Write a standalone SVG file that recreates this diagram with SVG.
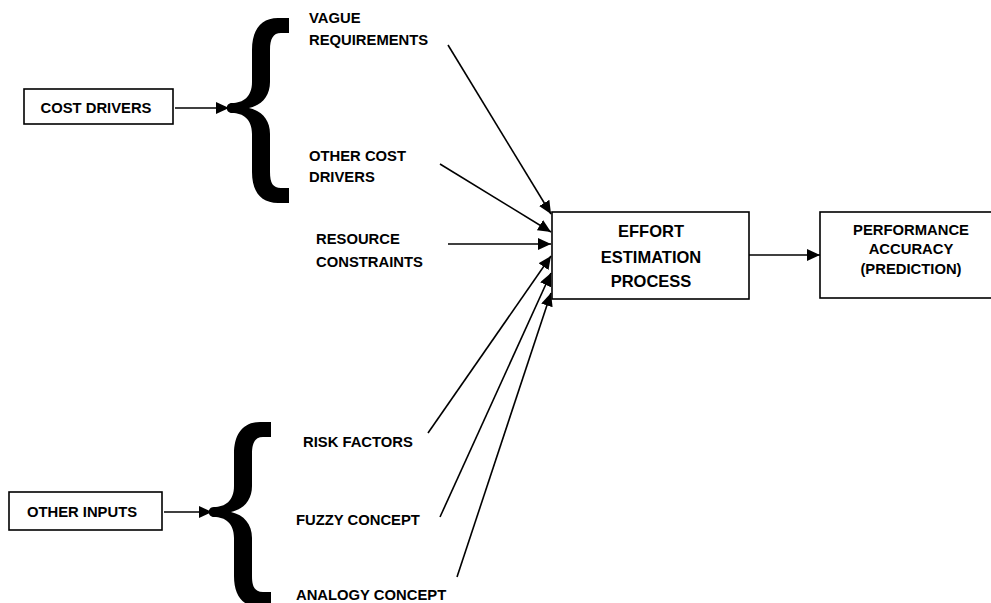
<svg xmlns="http://www.w3.org/2000/svg" width="991" height="603" viewBox="0 0 991 603">
<defs>
<style>
.box{fill:#fff;stroke:#000;stroke-width:1.6}
.t{font-family:"Liberation Sans",Arial,sans-serif;font-weight:bold;font-size:14.8px;fill:#000}
.c{text-anchor:middle}
.big{font-size:16.5px}
.ln{stroke:#000;stroke-width:1.6;fill:none}
.brace{fill:#000}
</style>
<marker id="ah" markerUnits="userSpaceOnUse" markerWidth="14" markerHeight="12" viewBox="0 0 14 12" refX="13" refY="6" orient="auto">
<path d="M0,0 L13,6 L0,12 Z" fill="#000"/>
</marker>
<path id="br" d="M289,18 L278,18 C261,18 252,30 252,50 L252,82 C252,97 243,103 232,103 C225,103 225,113 232,113 C243,113 252,119 252,134 L252,172 C252,192 261,203 278,203 L289,203 L289,188 L281,188 C273,188 270,183 270,172 L270,134 C270,120 262,111 249,108 C262,105 270,96 270,82 L270,50 C270,39 273,33 281,33 L289,33 Z"/>
</defs>
<rect width="991" height="603" fill="#fff"/>
<g id="cost-drivers">
<rect class="box" x="24" y="89" width="149" height="35"/>
<text class="t c" x="96" y="113">COST DRIVERS</text>
</g>
<g id="brace-top"><use href="#br" class="brace"/></g>
<g id="other-inputs">
<rect class="box" x="9" y="492" width="153" height="38"/>
<text class="t c" x="82" y="517">OTHER INPUTS</text>
</g>
<g id="brace-bottom"><use href="#br" class="brace" transform="translate(-18,404)"/></g>
<g id="vague"><text class="t" x="309" y="23">VAGUE</text><text class="t" x="309" y="45">REQUIREMENTS</text></g>
<g id="other-cost"><text class="t" x="309" y="161">OTHER COST</text><text class="t" x="309" y="182">DRIVERS</text></g>
<g id="resource"><text class="t" x="316" y="244">RESOURCE</text><text class="t" x="316" y="267">CONSTRAINTS</text></g>
<g id="risk"><text class="t" x="303" y="447">RISK FACTORS</text></g>
<g id="fuzzy"><text class="t" x="296" y="525">FUZZY CONCEPT</text></g>
<g id="analogy"><text class="t" x="296" y="600">ANALOGY CONCEPT</text></g>
<g id="effort">
<rect class="box" x="552" y="212" width="197" height="87"/>
<text class="t c big" x="651" y="237">EFFORT</text>
<text class="t c big" x="651" y="263">ESTIMATION</text>
<text class="t c big" x="651" y="287">PROCESS</text>
</g>
<g id="performance">
<rect class="box" x="820" y="212" width="182" height="86"/>
<text class="t c" x="911" y="235">PERFORMANCE</text>
<text class="t c" x="911" y="254">ACCURACY</text>
<text class="t c" x="911" y="274">(PREDICTION)</text>
</g>
<g id="connectors">
<line class="ln" x1="175" y1="108" x2="229" y2="108" marker-end="url(#ah)"/>
<line class="ln" x1="164" y1="512" x2="212" y2="512" marker-end="url(#ah)"/>
<line class="ln" x1="448" y1="45" x2="551" y2="214" marker-end="url(#ah)"/>
<line class="ln" x1="440" y1="164" x2="551" y2="232" marker-end="url(#ah)"/>
<line class="ln" x1="448" y1="244" x2="551" y2="244" marker-end="url(#ah)"/>
<line class="ln" x1="428" y1="433" x2="551" y2="256" marker-end="url(#ah)"/>
<line class="ln" x1="440" y1="517" x2="551" y2="273" marker-end="url(#ah)"/>
<line class="ln" x1="457" y1="577" x2="551" y2="293" marker-end="url(#ah)"/>
<line class="ln" x1="749" y1="255" x2="820" y2="255" marker-end="url(#ah)"/>
</g>
</svg>
